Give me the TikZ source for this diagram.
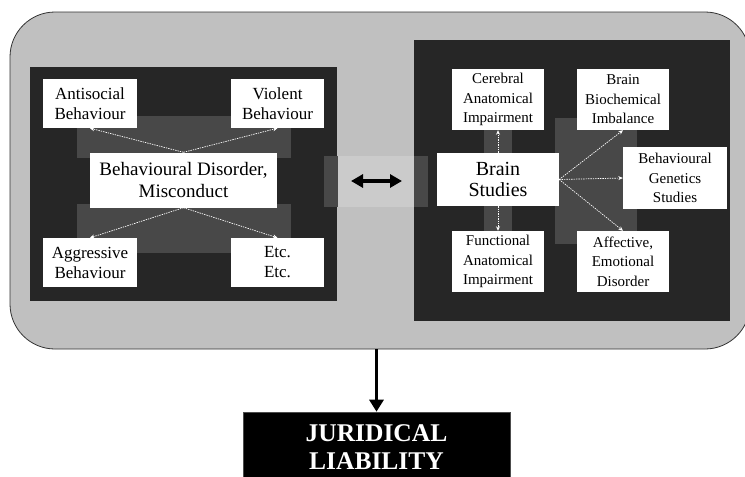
\documentclass[tikz,border=0pt]{standalone}
\usepackage{fontspec}
\setmainfont{Liberation Serif}
\usetikzlibrary{arrows.meta}
\definecolor{outerg}{HTML}{C0C0C0}
\definecolor{panelc}{HTML}{262626}
\definecolor{patchc}{HTML}{484848}
\definecolor{bandg}{HTML}{CBCBCB}
\begin{document}
\begin{tikzpicture}[x=1pt,y=-1pt,
  wbox/.style={fill=white, align=center, inner sep=0pt, text=black},
  cornerbox/.style={wbox, minimum width=94pt, minimum height=49pt, font=\fontsize{17}{20}\selectfont},
  rbox/.style={wbox, minimum width=92pt, minimum height=61pt, font=\fontsize{15}{19.5}\selectfont},
  patch/.style={fill=patchc, inner sep=0pt},
  conn/.style={white, line width=0.7pt, dash pattern=on 1.4pt off 1pt, -{Stealth[length=4.5pt,width=4pt]}},
]
\path[use as bounding box] (0,0) rectangle (745,477);
\clip (0,0) rectangle (745,477);
% outer frame
\node[fill=outerg, draw=black!80, line width=0.8pt, rounded corners=45pt, minimum width=740pt, minimum height=337pt, inner sep=0pt] (outer) at (380,180.5) {};
% panels
\node[fill=panelc, inner sep=0pt, minimum width=307pt, minimum height=234pt] (lp) at (183.5,184) {};
\node[fill=panelc, inner sep=0pt, minimum width=316pt, minimum height=281pt] (rp) at (572,180.5) {};
% band between panels
\node[fill=bandg, inner sep=0pt, minimum width=76pt, minimum height=51pt] (band) at (376,181.5) {};
\node[patch, minimum width=14pt, minimum height=51pt] (sl) at (331,181.5) {};
\node[patch, minimum width=14pt, minimum height=51pt] (sr) at (421,181.5) {};
% grey patches
\node[patch, minimum width=214pt, minimum height=42pt] (pt1) at (184,137) {};
\node[patch, minimum width=214pt, minimum height=49pt] (pt2) at (184,228.5) {};
\node[patch, minimum width=28pt, minimum height=101pt] (pt3) at (498,180.5) {};
\node[patch, minimum width=82pt, minimum height=126pt] (pt4) at (596,181) {};
% left boxes
\node[cornerbox] (anti) at (90,103.5) {Antisocial\\Behaviour};
\node[cornerbox, minimum width=93pt] (viol) at (277.5,103.5) {Violent\\Behaviour};
\node[wbox, minimum width=187pt, minimum height=55pt, font=\fontsize{19}{22}\selectfont] (bdm) at (183.5,180) {Behavioural Disorder,\\Misconduct};
\node[cornerbox] (aggr) at (90,262.5) {Aggressive\\Behaviour};
\node[cornerbox, minimum width=93pt] (etc) at (277.5,262.5) {Etc.\\Etc.};
% right boxes
\node[wbox, minimum width=122pt, minimum height=53pt, font=\fontsize{20}{21}\selectfont] (bs) at (498,179.5) {Brain\\Studies};
\node[rbox] (cer) at (498,99.5) {Cerebral\\Anatomical\\Impairment};
\node[rbox] (bio) at (623,99.5) {Brain\\Biochemical\\Imbalance};
\node[rbox, minimum width=104pt, minimum height=62pt] (gen) at (675,178) {Behavioural\\Genetics\\Studies};
\node[rbox] (fun) at (498,261.5) {Functional\\Anatomical\\Impairment};
\node[rbox] (aff) at (623,261.5) {Affective,\\Emotional\\Disorder};
% connectors left
\draw[conn] (bdm.north) -- (anti.south);
\draw[conn] (bdm.north) -- (viol.south);
\draw[conn] (bdm.south) -- (aggr.north);
\draw[conn] (bdm.south) -- (etc.north);
% connectors right
\draw[conn] (bs.north) -- (cer.south);
\draw[conn] (bs.south) -- (fun.north);
\draw[conn] (bs.east) -- (bio.south);
\draw[conn] (bs.east) -- (gen.west);
\draw[conn] (bs.east) -- (aff.north);
% double arrow
\coordinate (da1) at (351,181);
\coordinate (da2) at (402,181);
\draw[line width=3.8pt, {Triangle[length=12pt,width=13pt]}-{Triangle[length=12pt,width=13pt]}] (da1) -- (da2);
% juridical
\node[fill=black, draw=black!70, line width=0.6pt, text=white, align=center, inner sep=0pt, minimum width=267pt, minimum height=71pt, font=\fontsize{25.5}{28}\bfseries\selectfont] (jur) at (376.5,447.5) {JURIDICAL\\LIABILITY};
\draw[line width=3.6pt, -{Triangle[length=12pt,width=14pt]}] (outer.south -| jur.north) -- (jur.north);
\end{tikzpicture}
\end{document}
